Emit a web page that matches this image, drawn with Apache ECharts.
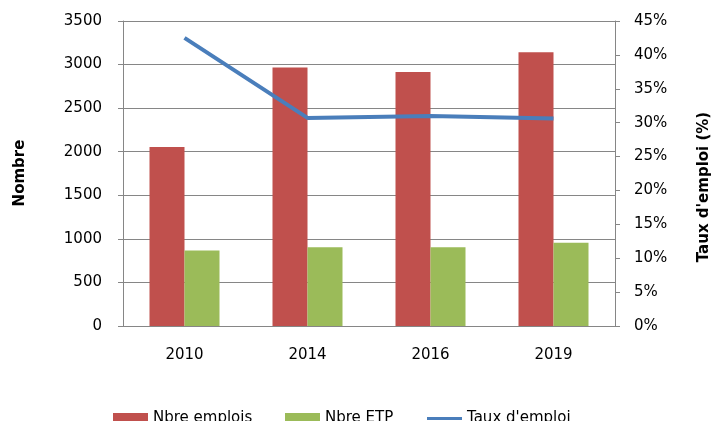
<!DOCTYPE html>
<html>
<head>
<meta charset="utf-8">
<script src="https://cdn.jsdelivr.net/npm/echarts@6/dist/echarts.min.js"></script>
<style>
html, body { margin: 0; padding: 0; background: #fff; }
#main { width: 715px; height: 421px; }
</style>
</head>
<body>
<div id="main"></div>
<script>
// données
var annees = ['2010', '2014', '2016', '2019'];
var emplois = [2055, 2965, 2915, 3140];
var etp = [865, 903, 903, 956];
var tauxEmploi = [42.5, 30.7, 31.0, 30.6];

var gris = '#868686';
var police = 'DejaVu Sans';

function legende(nom, gauche, haut, hauteur) {
    return {
        data: [{ name: nom, icon: 'rect' }],
        left: gauche,
        top: haut,
        itemWidth: 35,
        itemHeight: hauteur,
        itemGap: 5,
        textStyle: { fontFamily: police, fontSize: 15, color: '#000' }
    };
}

var myecharts = echarts.init(document.getElementById('main'));
var option = {
    backgroundColor: '#fff',
    animation: false,
    textStyle: { fontFamily: police, color: '#000' },
    grid: { left: 123, right: 100, top: 21, bottom: 95 },
    legend: [
        legende('Nbre emplois', 108, 406, 11),
        legende('Nbre ETP', 280, 406, 11),
        legende('Taux d\'emploi', 422, 406, 3)
    ],
    xAxis: {
        type: 'category',
        data: annees,
        axisLine: { lineStyle: { color: gris, width: 1 } },
        axisTick: { length: 5, lineStyle: { color: gris } },
        axisLabel: { fontFamily: police, fontSize: 15, color: '#000', margin: 22 }
    },
    yAxis: [
        {
            type: 'value',
            min: 0,
            max: 3500,
            interval: 500,
            axisLine: { show: true, lineStyle: { color: gris } },
            axisTick: { show: true, length: 5, lineStyle: { color: gris } },
            splitLine: { lineStyle: { color: gris, width: 1 } },
            axisLabel: {
                fontFamily: police, fontSize: 15, color: '#000', margin: 21,
                formatter: function (v) { return String(v); }
            }
        },
        {
            type: 'value',
            min: 0,
            max: 45,
            interval: 5,
            position: 'right',
            axisLine: { show: true, lineStyle: { color: gris } },
            axisTick: { show: true, length: 5, lineStyle: { color: gris } },
            splitLine: { show: false },
            axisLabel: { fontFamily: police, fontSize: 15, color: '#000', margin: 19, formatter: '{value}%' }
        }
    ],
    graphic: [
        {
            type: 'text',
            x: 20, y: 173,
            rotation: Math.PI / 2,
            style: { text: 'Nombre', fontFamily: police, fontSize: 15, fontWeight: 'bold', fill: '#000', align: 'center', verticalAlign: 'middle' }
        },
        {
            type: 'text',
            x: 704, y: 187,
            rotation: Math.PI / 2,
            style: { text: 'Taux d\'emploi (%)', fontFamily: police, fontSize: 15, fontWeight: 'bold', fill: '#000', align: 'center', verticalAlign: 'middle' }
        }
    ],
    series: [
        {
            name: 'Nbre emplois',
            type: 'bar',
            barWidth: 35,
            barGap: '0%',
            itemStyle: { color: '#c0504d' },
            data: emplois
        },
        {
            name: 'Nbre ETP',
            type: 'bar',
            barWidth: 35,
            barGap: '0%',
            itemStyle: { color: '#9bbb59' },
            data: etp
        },
        {
            name: 'Taux d\'emploi',
            type: 'line',
            yAxisIndex: 1,
            symbol: 'none',
            lineStyle: { color: '#4a7ebb', width: 4 },
            itemStyle: { color: '#4a7ebb' },
            data: tauxEmploi
        }
    ]
};
myecharts.setOption(option);
</script>
</body>
</html>
